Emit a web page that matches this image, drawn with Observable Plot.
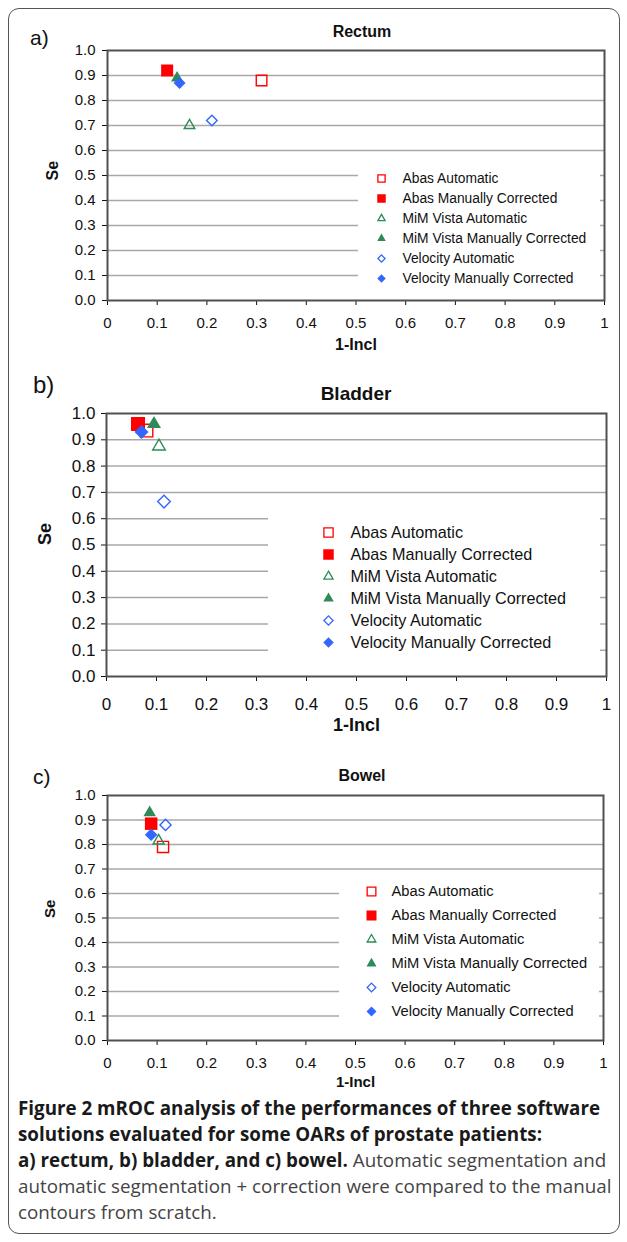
<!DOCTYPE html>
<html><head><meta charset="utf-8">
<script src="https://cdn.jsdelivr.net/npm/d3@7"></script>
<script src="https://cdn.jsdelivr.net/npm/@observablehq/plot@0.6"></script>
<style>
body{margin:0;background:#fff;}
#page{position:relative;width:627px;height:1242px;overflow:hidden;font-family:"Liberation Sans",Arial,sans-serif;color:#111;}
#frame{position:absolute;left:8px;top:8px;width:612px;height:1226px;border:1.5px solid #555;border-radius:11px;box-sizing:border-box;}
.abs{position:absolute;}
.lab{position:absolute;transform:translate(0,-50%);white-space:nowrap;line-height:1;}
.title{position:absolute;transform:translate(-50%,-50%);white-space:nowrap;font-weight:bold;line-height:1;}
#caption{position:absolute;left:18px;top:1095px;font-family:"Open Sans",sans-serif;font-size:18.8px;line-height:26px;color:#444;white-space:nowrap;}
#caption b{color:#1a1a1a;font-weight:700;}
</style>
</head><body>
<div id="page">
  <div id="frame"></div>
  <div class="lab" style="left:30px;top:37px;font-size:21px;">a)</div>
  <div class="title" style="left:362px;top:32px;font-size:16px;">Rectum</div>
  <div class="lab" style="left:33px;top:385px;font-size:24px;">b)</div>
  <div class="title" style="left:356px;top:393px;font-size:19px;">Bladder</div>
  <div class="lab" style="left:33px;top:776px;font-size:21px;">c)</div>
  <div class="title" style="left:362px;top:776px;font-size:16px;">Bowel</div>
  <div id="caption"><b>Figure 2 mROC analysis of the performances of three software</b><br><b>solutions evaluated for some OARs of prostate patients:</b><br><b>a) rectum, b) bladder, and c) bowel.</b> Automatic segmentation and<br>automatic segmentation + correction were compared to the manual<br>contours from scratch.</div>
</div>
<script>
// ---- data ----
const series = ["Abas Automatic", "Abas Manually Corrected", "MiM Vista Automatic", "MiM Vista Manually Corrected", "Velocity Automatic", "Velocity Manually Corrected"];
const rectumX = [0.31, 0.12, 0.165, 0.14, 0.21, 0.145];
const rectumY = [0.88, 0.92, 0.70, 0.89, 0.72, 0.87];
const bladderX = [0.08, 0.063, 0.105, 0.095, 0.115, 0.07];
const bladderY = [0.935, 0.96, 0.875, 0.96, 0.665, 0.93];
const bowelX = [0.112, 0.088, 0.103, 0.085, 0.117, 0.088];
const bowelY = [0.79, 0.885, 0.815, 0.93, 0.88, 0.84];
const yTicks = [0, 0.1, 0.2, 0.3, 0.4, 0.5, 0.6, 0.7, 0.8, 0.9, 1.0];
const xTicks = [0, 0.1, 0.2, 0.3, 0.4, 0.5, 0.6, 0.7, 0.8, 0.9, 1];
const gridTicks = [0.1, 0.2, 0.3, 0.4, 0.5, 0.6, 0.7, 0.8, 0.9];
// ---- styles ----
const seriesColor = ["#ff0000", "#ff0000", "#2e8b57", "#2e8b57", "#3366ff", "#3366ff"];
const seriesSymbol = ["square", "square", "triangle", "triangle", "diamond2", "diamond2"];
const seriesOpen = [true, false, true, false, true, false];

const FONT = "'Liberation Sans', Arial, sans-serif";
function rFor(sym, w) {
  if (sym === "square") return w / Math.sqrt(Math.PI);
  if (sym === "triangle") return w / 2.6937;
  return w / 2.22;
}
function dotOpts(i, size, sw, base) {
  const sym = seriesSymbol[i];
  if (seriesOpen[i]) return {...base, symbol: sym, r: rFor(sym, size - sw), stroke: seriesColor[i], fill: "none", strokeWidth: sw};
  return {...base, symbol: sym, r: rFor(sym, size), fill: seriesColor[i], stroke: "none"};
}

function panel(cfg) {
  const rows = series.map((s, i) => ({name: s, x: cfg.xs[i], y: cfg.ys[i]}));
  const plot = Plot.plot({
    width: 627, height: cfg.mt + cfg.ph + cfg.mb,
    marginTop: cfg.mt, marginBottom: cfg.mb, marginLeft: cfg.ml, marginRight: cfg.mr,
    style: {fontFamily: FONT, fontSize: cfg.font + "px", color: "#111", background: "transparent", overflow: "visible"},
    x: {domain: [0, 1]}, y: {domain: [0, 1]},
    marks: [
      Plot.ruleY(gridTicks, {stroke: "#a8a8a8", strokeWidth: 1.5}),
      Plot.axisY({ticks: yTicks, tickFormat: d => d.toFixed(1), tickSize: 5, tickPadding: cfg.ypad, label: null, fontSize: cfg.font}),
      Plot.axisX({ticks: xTicks, tickFormat: d => String(d), tickSize: 5, tickPadding: cfg.xpad, label: null, fontSize: cfg.font}),
      Plot.frame({stroke: "#505050", strokeWidth: 2}),
      ...rows.map((r, i) => Plot.dot([r], dotOpts(i, cfg.size, 1.4, {x: "x", y: "y"}))),
      Plot.text(["Se"], {text: d => d, frameAnchor: "left", dx: cfg.seDx, dy: cfg.seDy, rotate: -90, fontWeight: "bold", fontSize: cfg.lf}),
      Plot.text(["1-Incl"], {text: d => d, frameAnchor: "bottom", dy: cfg.xlDy, fontWeight: "bold", fontSize: cfg.lf})
    ]
  });
  const wrap = document.createElement("div");
  wrap.className = "abs";
  wrap.style.left = "0px"; wrap.style.top = cfg.top + "px";
  wrap.appendChild(plot);
  document.getElementById("page").appendChild(wrap);

  const L = cfg.leg;
  const legend = Plot.plot({
    width: L.w, height: L.h, marginTop: L.mt, marginBottom: L.mb, marginLeft: 0, marginRight: 0,
    style: {fontFamily: FONT, fontSize: L.font + "px", color: "#111", background: "white"},
    y: {domain: series, type: "point", padding: 0, axis: null},
    marks: [
      ...series.map((s, i) => Plot.dot([s], dotOpts(i, L.size, 1.3, {y: d => d, frameAnchor: "left", dx: L.mdx}))),
      Plot.text(series, {y: d => d, text: d => d, frameAnchor: "left", dx: L.tdx, textAnchor: "start", fill: "#111", fontSize: L.font})
    ]
  });
  const lw = document.createElement("div");
  lw.className = "abs";
  lw.style.left = L.x + "px"; lw.style.top = L.y + "px";
  lw.appendChild(legend);
  document.getElementById("page").appendChild(lw);
}

panel({xs: rectumX, ys: rectumY, top: 40, mt: 10, ph: 250, mb: 62, ml: 107, mr: 23, font: 15, ypad: 7, xpad: 12,
  size: 12, lf: 16, seDx: -55, seDy: 5, xlDy: 49,
  leg: {x: 358, y: 157, w: 242, h: 141, mt: 19, mb: 18.5, font: 13.8, size: 8.5, mdx: 23, tdx: 44}});
panel({xs: bladderX, ys: bladderY, top: 403, mt: 10, ph: 263, mb: 72, ml: 106, mr: 21, font: 17, ypad: 6, xpad: 16,
  size: 14, lf: 18, seDx: -61, seDy: 0, xlDy: 54,
  leg: {x: 268, y: 500, w: 332, h: 174, mt: 30, mb: 30, font: 16.2, size: 10.5, mdx: 60, tdx: 82}});
panel({xs: bowelX, ys: bowelY, top: 785, mt: 10, ph: 245, mb: 62, ml: 107, mr: 24, font: 15, ypad: 7, xpad: 12,
  size: 12.5, lf: 15, seDx: -57, seDy: 0, xlDy: 46,
  leg: {x: 339, y: 874, w: 260, h: 164, mt: 15.3, mb: 25.7, font: 14.7, size: 10, mdx: 32, tdx: 52}});
</script>
</body></html>
